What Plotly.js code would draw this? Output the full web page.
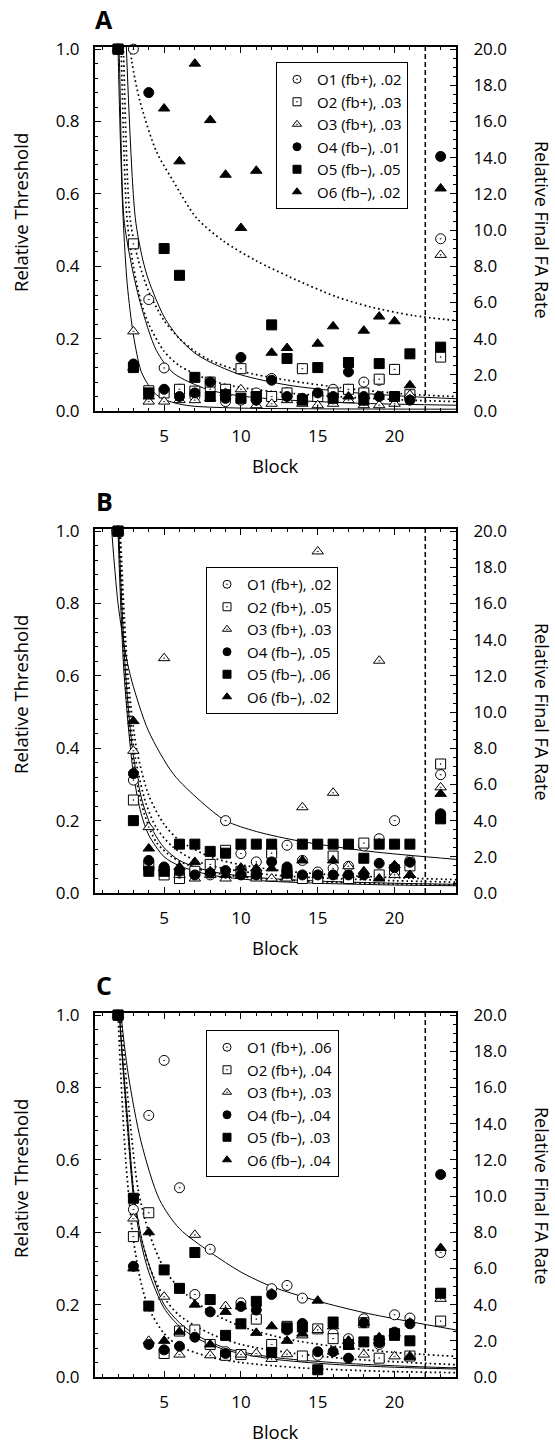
<!DOCTYPE html>
<html><head><meta charset="utf-8">
<script src="https://cdn.plot.ly/plotly-3.0.1.min.js"></script>
<style>html,body{margin:0;padding:0;background:#fff;}#chart{width:555px;height:1443px;}</style>
</head><body><div id="chart"></div>
<script>
// ---------- data ----------
const blocks = [2,3,4,5,6,7,8,9,10,11,12,13,14,15,16,17,18,19,20,21];
const finalBlock = 23;
const panelLetters = ["A","B","C"];
const legendA = ["O1 (fb+), .02","O2 (fb+), .03","O3 (fb+), .03","O4 (fb–), .01","O5 (fb–), .05","O6 (fb–), .02"];
const legendB = ["O1 (fb+), .02","O2 (fb+), .05","O3 (fb+), .03","O4 (fb–), .05","O5 (fb–), .06","O6 (fb–), .02"];
const legendC = ["O1 (fb+), .06","O2 (fb+), .04","O3 (fb+), .03","O4 (fb–), .04","O5 (fb–), .03","O6 (fb–), .04"];

const A_O1 = [1.0,1.0,0.308,0.119,0.06,0.04,0.06,0.026,0.03,0.05,0.09,0.05,0.117,0.04,0.06,0.06,0.08,0.085,0.115,0.04];
const A_O2 = [1.0,0.462,0.056,0.05,0.06,0.055,0.08,0.06,0.117,0.04,0.04,0.05,0.117,0.04,0.05,0.06,0.05,0.088,0.115,0.045];
const A_O3 = [1.0,0.22,0.026,0.026,0.03,0.03,0.035,0.05,0.06,0.016,0.02,0.03,0.02,0.016,0.02,0.03,0.016,0.016,0.02,0.045];
const A_O4 = [1.0,0.13,0.88,0.06,0.04,0.05,0.08,0.035,0.148,0.03,0.085,0.04,0.035,0.05,0.04,0.108,0.04,0.04,0.04,0.03];
const A_O5 = [1.0,0.12,0.05,0.449,0.375,0.093,0.04,0.045,0.035,0.04,0.238,0.145,0.03,0.12,0.035,0.134,0.03,0.131,0.04,0.158];
const A_O6 = [1.0,0.12,0.04,0.836,0.69,0.96,0.804,0.653,0.506,0.664,0.161,0.174,0.03,0.186,0.234,0.04,0.222,0.261,0.248,0.071];
const A_final = [9.52,2.98,8.63,14.07,3.53,12.3];

const B_O1 = [1.0,0.312,0.07,0.06,0.05,0.06,0.05,0.2,0.109,0.086,0.11,0.132,0.09,0.058,0.068,0.074,0.13,0.15,0.2,0.09];
const B_O2 = [1.0,0.257,0.075,0.05,0.04,0.06,0.079,0.118,0.06,0.05,0.11,0.05,0.04,0.04,0.102,0.04,0.138,0.05,0.064,0.075];
const B_O3 = [1.0,0.393,0.182,0.649,0.05,0.04,0.05,0.04,0.05,0.04,0.04,0.04,0.237,0.944,0.277,0.074,0.05,0.642,0.05,0.05];
const B_O4 = [1.0,0.33,0.09,0.072,0.06,0.05,0.055,0.062,0.05,0.05,0.086,0.072,0.05,0.05,0.05,0.05,0.05,0.082,0.07,0.085];
const B_O5 = [1.0,0.2,0.06,0.06,0.135,0.135,0.115,0.11,0.135,0.135,0.135,0.055,0.135,0.135,0.135,0.135,0.096,0.135,0.135,0.135];
const B_O6 = [1.0,0.475,0.123,0.07,0.072,0.086,0.06,0.05,0.07,0.068,0.068,0.055,0.09,0.05,0.09,0.05,0.06,0.04,0.077,0.05];
const B_final = [6.54,7.13,5.84,4.38,4.1,5.48];

const C_O1 = [1.0,0.463,0.723,0.875,0.523,0.228,0.353,0.07,0.205,0.161,0.244,0.253,0.218,0.06,0.12,0.106,0.161,0.09,0.172,0.163];
const C_O2 = [1.0,0.388,0.454,0.065,0.127,0.13,0.09,0.06,0.062,0.16,0.09,0.14,0.058,0.133,0.106,0.09,0.15,0.052,0.12,0.058];
const C_O3 = [1.0,0.438,0.1,0.222,0.062,0.393,0.06,0.196,0.062,0.065,0.05,0.063,0.115,0.13,0.07,0.1,0.062,0.1,0.057,0.058];
const C_O4 = [1.0,0.306,0.09,0.075,0.085,0.11,0.18,0.065,0.195,0.185,0.228,0.13,0.148,0.07,0.07,0.052,0.15,0.095,0.124,0.147];
const C_O5 = [1.0,0.494,0.196,0.296,0.245,0.344,0.214,0.115,0.147,0.209,0.068,0.136,0.138,0.02,0.152,0.09,0.097,0.1,0.115,0.1];
const C_O6 = [1.0,0.3,0.4,0.1,0.125,0.2,0.09,0.18,0.195,0.122,0.14,0.1,0.12,0.211,0.14,0.1,0.15,0.11,0.12,0.055];
const C_final = [6.88,3.09,4.32,11.19,4.63,7.13];

// fitted curves, points (block, relative threshold)
const fitA1x = [2.5,3.12,3.6,4,5,6,7,8,10,13,17,21,24];
const fitA1y = [1.05,0.534,0.42,0.36,0.26,0.2,0.16,0.135,0.1,0.072,0.052,0.04,0.034];
const fitA2x = [2.0,2.1,2.38,2.8,3.44,4.5,5.6,7.8,9.9,13.2,18,24];
const fitA2y = [1.1,0.95,0.534,0.42,0.3,0.167,0.105,0.06,0.042,0.03,0.021,0.016];
const fitA3x = [1.95,2.0,2.15,2.33,2.6,3.0,3.5,4.0,4.5,5.0,6.0,7.0,10,15,24];
const fitA3y = [1.1,1.0,0.75,0.534,0.35,0.21,0.11,0.07,0.045,0.032,0.019,0.013,0.008,0.006,0.005];
const fitA4x = [2.1,2.2,2.58,3,3.5,4,5,6,8,10,13,17,21,24];
const fitA4y = [1.15,1.0,0.534,0.4,0.3,0.24,0.165,0.125,0.085,0.065,0.05,0.038,0.03,0.026];
const fitA5x = [2.25,2.35,2.78,3.3,4,5,6,7,8,10,13,17,21,24];
const fitA5y = [1.15,1.0,0.534,0.42,0.33,0.25,0.2,0.165,0.14,0.11,0.085,0.062,0.046,0.04];
const fitA6x = [2.5,2.9,3.44,4.5,5.6,7.1,8.85,11,13.2,16.2,18.4,21.2,24];
const fitA6y = [1.12,0.965,0.854,0.717,0.635,0.534,0.47,0.415,0.37,0.316,0.288,0.264,0.25];

const fitB1x = [1.5,2.0,2.5,2.9,3.98,5.6,7.34,9,11,14,18.4,24];
const fitB1y = [1.05,0.8,0.66,0.585,0.448,0.329,0.255,0.2,0.17,0.142,0.115,0.093];
const fitB2x = [1.95,2.0,2.4,3.0,3.5,4.0,5.0,6.0,8.0,11,15,20,24];
const fitB2y = [1.1,1.0,0.6,0.33,0.22,0.16,0.1,0.075,0.05,0.035,0.027,0.022,0.02];
const fitB3x = [2.0,2.05,2.5,3.0,3.6,4.3,5.0,6.0,8.0,11,15,20,24];
const fitB3y = [1.1,1.0,0.6,0.38,0.25,0.17,0.125,0.09,0.06,0.043,0.033,0.027,0.024];
const fitB4x = [2.05,2.1,2.55,3.1,3.8,4.5,5.5,7,9,12,16,20,24];
const fitB4y = [1.1,1.0,0.6,0.38,0.25,0.18,0.13,0.09,0.067,0.05,0.04,0.034,0.03];
const fitB5x = [2.1,2.15,2.65,3.2,4,5,6,8,10,13,17,21,24];
const fitB5y = [1.1,1.0,0.6,0.4,0.27,0.19,0.145,0.1,0.078,0.06,0.048,0.041,0.037];
const fitB6x = [2.0,2.05,2.45,3.0,3.7,4.5,5.5,7,9,12,16,20,24];
const fitB6y = [1.1,1.0,0.6,0.36,0.22,0.14,0.1,0.07,0.05,0.038,0.03,0.025,0.022];

const fitC1x = [2.0,2.2,2.67,3.5,4.7,6,8,10,12,15,18,21,24];
const fitC1y = [1.12,1.0,0.835,0.65,0.49,0.41,0.345,0.29,0.25,0.21,0.178,0.153,0.13];
const fitC2x = [2.05,2.1,2.6,3,3.5,4,5,6,7,9,12,16,20,24];
const fitC2y = [1.1,1.0,0.7,0.5,0.37,0.29,0.19,0.14,0.11,0.075,0.05,0.035,0.027,0.022];
const fitC3x = [2.05,2.1,2.65,3.05,3.6,4.1,5,6,7,9,12,16,20,24];
const fitC3y = [1.1,1.0,0.7,0.5,0.37,0.3,0.2,0.15,0.118,0.08,0.055,0.04,0.031,0.025];
const fitC4x = [2.15,2.2,2.8,3.3,4,5,6,8,10,13,16,20,24];
const fitC4y = [1.1,1.0,0.7,0.52,0.4,0.3,0.245,0.18,0.14,0.105,0.085,0.068,0.057];
const fitC5x = [2.05,2.1,2.7,3.2,4,5,6,8,10,13,17,21,24];
const fitC5y = [1.1,1.0,0.65,0.45,0.31,0.22,0.17,0.12,0.09,0.068,0.05,0.04,0.034];
const fitC6x = [1.95,2.0,2.5,3,3.5,4,5,6,8,10,14,19,24];
const fitC6y = [1.1,1.0,0.6,0.38,0.26,0.19,0.12,0.085,0.055,0.04,0.025,0.016,0.012];

const yTickLeft = [0,0.2,0.4,0.6,0.8,1.0];
const yTickRight = [0,2,4,6,8,10,12,14,16,18,20];
const xTicks = [5,10,15,20];

// ---------- layout helpers ----------
const W = 555, H = 1443;
const X0 = 95, X1 = 456, PH = 364;
const tops = [47, 529, 1013];
const FONT = "Open Sans, Noto Sans, sans-serif";
const fx = v => v / W, fy = v => 1 - v / H;

const panels = [
  {series:[A_O1,A_O2,A_O3,A_O4,A_O5,A_O6], fin:A_final, leg:legendA,
   fits:[[fitA1x,fitA1y],[fitA2x,fitA2y],[fitA3x,fitA3y],[fitA4x,fitA4y],[fitA5x,fitA5y],[fitA6x,fitA6y]],
   legPos:[276,62]},
  {series:[B_O1,B_O2,B_O3,B_O4,B_O5,B_O6], fin:B_final, leg:legendB,
   fits:[[fitB1x,fitB1y],[fitB2x,fitB2y],[fitB3x,fitB3y],[fitB4x,fitB4y],[fitB5x,fitB5y],[fitB6x,fitB6y]],
   legPos:[206,567]},
  {series:[C_O1,C_O2,C_O3,C_O4,C_O5,C_O6], fin:C_final, leg:legendC,
   fits:[[fitC1x,fitC1y],[fitC2x,fitC2y],[fitC3x,fitC3y],[fitC4x,fitC4y],[fitC5x,fitC5y],[fitC6x,fitC6y]],
   legPos:[206,1030]}
];

const symbols = ['circle-dot','square-dot','triangle-up-dot','circle','square','triangle-up'];
const fills = ['#fff','#fff','#fff','#000','#000','#000'];
const sizes = [10,10,10,10,10,10];

const traces = [];
const layout = {
  width: W, height: H, autosize: false,
  margin: {l:0, r:0, t:0, b:0},
  paper_bgcolor: '#fff', plot_bgcolor: '#fff',
  font: {family: FONT, color: '#000', size: 17},
  showlegend: true,
  shapes: [], annotations: []
};

panels.forEach((p, i) => {
  const xa = i === 0 ? 'x' : 'x' + (i + 1);
  const yl = i === 0 ? 'y' : 'y' + (2 * i + 1);
  const yr = 'y' + (2 * i + 2);
  const legName = i === 0 ? 'legend' : 'legend' + (i + 1);
  const top = tops[i], bot = top + PH;

  // fit curves
  p.fits.forEach((f, k) => {
    traces.push({
      x: f[0], y: f[1], xaxis: xa, yaxis: yl, type: 'scatter', mode: 'lines',
      line: {color: '#000', width: k < 3 ? 1 : 1.7, dash: k < 3 ? 'solid' : '1.7px,3px', shape: 'spline', smoothing: 0.8},
      showlegend: false, hoverinfo: 'skip'
    });
  });
  // data
  p.series.forEach((s, k) => {
    traces.push({
      x: blocks, y: s, xaxis: xa, yaxis: yl, type: 'scatter', mode: 'markers',
      marker: {symbol: symbols[k], size: sizes[k], color: fills[k], line: {color: '#000', width: 1}},
      cliponaxis: false, showlegend: false
    });
  });
  // final FA rate (right axis)
  p.fin.forEach((v, k) => {
    traces.push({
      x: [finalBlock], y: [v], xaxis: xa, yaxis: yr, type: 'scatter', mode: 'markers',
      marker: {symbol: symbols[k], size: sizes[k], color: fills[k], line: {color: '#000', width: 1}},
      cliponaxis: false, showlegend: false
    });
  });
  // legend entries
  p.leg.forEach((name, k) => {
    traces.push({
      x: [null], y: [null], xaxis: xa, yaxis: yl, type: 'scatter', mode: 'markers', name: name,
      marker: {symbol: symbols[k], size: 8, color: fills[k], line: {color: '#000', width: 1}},
      legend: legName, legendgroup: 'g' + i + k, showlegend: true
    });
  });

  const yDom = [fy(bot), fy(top)];
  const common = {showgrid: false, zeroline: false, showline: true, linecolor: '#000', linewidth: 2,
                  ticks: 'inside', tickcolor: '#000', tickwidth: 1, tickfont: {family: FONT, size: 17, color: '#000'}};
  layout[i === 0 ? 'xaxis' : 'xaxis' + (i + 1)] = Object.assign({}, common, {
    domain: [fx(X0), fx(X1)], anchor: yl, range: [0.5, 24],
    tickmode: 'array', tickvals: xTicks, ticktext: xTicks.map(String), ticklen: 6,
    minor: {dtick: 1, tick0: 0, ticklen: 3, ticks: 'inside', tickcolor: '#000', tickwidth: 1},
    mirror: 'ticks', ticklabelstandoff: 9
  });
  layout[i === 0 ? 'yaxis' : 'yaxis' + (2 * i + 1)] = Object.assign({}, common, {
    domain: yDom, anchor: xa, range: [0, 1.006],
    tickmode: 'array', tickvals: yTickLeft, ticktext: yTickLeft.map(v => v.toFixed(1)), ticklen: 6,
    minor: {dtick: 0.04, tick0: 0, ticklen: 3, ticks: 'inside', tickcolor: '#000', tickwidth: 1},
    ticklabelstandoff: 10
  });
  layout['yaxis' + (2 * i + 2)] = Object.assign({}, common, {
    overlaying: yl, side: 'right', anchor: xa, range: [0, 20.12],
    tickmode: 'array', tickvals: yTickRight, ticktext: yTickRight.map(v => v.toFixed(1)), ticklen: 6,
    minor: {dtick: 0.5, tick0: 0, ticklen: 3, ticks: 'inside', tickcolor: '#000', tickwidth: 1},
    ticklabelstandoff: 12
  });

  layout[legName] = {
    x: fx(p.legPos[0]), y: fy(p.legPos[1]), xanchor: 'left', yanchor: 'top',
    bordercolor: '#000', borderwidth: 1, bgcolor: '#fff',
    font: {family: FONT, size: 15, color: '#000'}, tracegroupgap: 0, itemwidth: 30
  };

  layout.shapes.push({type: 'line', xref: xa, yref: yl + ' domain', x0: 22, x1: 22, y0: 0, y1: 1,
                      line: {color: '#000', width: 1.5, dash: '5px,3px'}});

  layout.annotations.push(
    {text: '<b>' + panelLetters[i] + '</b>', xref: 'paper', yref: 'paper', x: fx(104), y: fy(top - 28),
     xanchor: 'center', yanchor: 'middle', showarrow: false, font: {family: FONT, size: 25, color: '#000'}},
    {text: 'Relative Threshold', xref: 'paper', yref: 'paper', x: fx(20), y: fy(top + 166),
     xanchor: 'center', yanchor: 'middle', textangle: -90, showarrow: false, font: {family: FONT, size: 18.5, color: '#000'}},
    {text: 'Relative Final FA Rate', xref: 'paper', yref: 'paper', x: fx(542), y: fy(top + 183),
     xanchor: 'center', yanchor: 'middle', textangle: 90, showarrow: false, font: {family: FONT, size: 18, color: '#000'}},
    {text: 'Block', xref: 'paper', yref: 'paper', x: fx((X0 + X1) / 2), y: fy(bot + 54),
     xanchor: 'center', yanchor: 'middle', showarrow: false, font: {family: FONT, size: 18.5, color: '#000'}}
  );
});

Plotly.newPlot('chart', traces, layout, {displayModeBar: false, staticPlot: true});
</script></body></html>
